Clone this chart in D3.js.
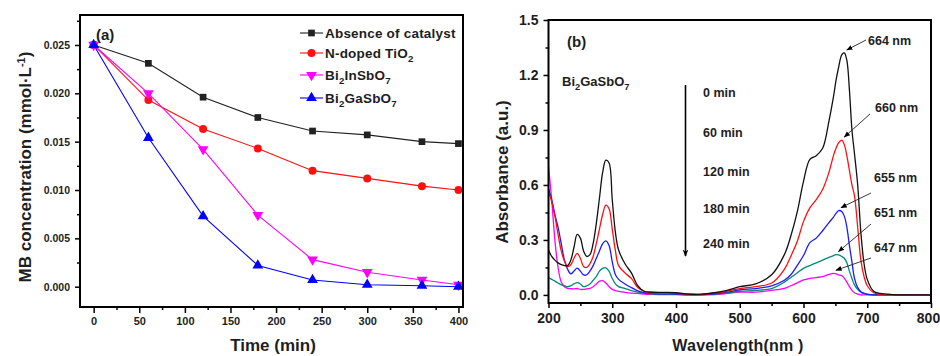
<!DOCTYPE html>
<html>
<head>
<meta charset="utf-8">
<script src="https://cdn.jsdelivr.net/npm/d3@7"></script>
<style>
  body { margin: 0; background: #fff; }
  text { font-family: "Liberation Sans", Arial, sans-serif; font-weight: bold; fill: #1e1e1e; }
</style>
</head>
<body>
<script>
// panel (a): MB concentration vs time
var times = [0, 60, 120, 180, 240, 300, 360, 400];
var absenceCatalyst = [0.0250, 0.0231, 0.0196, 0.0175, 0.0161, 0.0157, 0.0150, 0.0148];
var nDopedTiO2 = [0.0250, 0.0193, 0.0163, 0.0143, 0.0120, 0.0112, 0.0104, 0.0100];
var bi2InSbO7 = [0.0250, 0.0200, 0.0142, 0.0074, 0.0028, 0.0015, 0.0007, 0.0002];
var bi2GaSbO7 = [0.0250, 0.0154, 0.0073, 0.0022, 0.0007, 0.0002, 0.0001, 0.0000];
var legendNames = ["Absence of catalyst", "N-doped TiO_2", "Bi_2InSbO_7", "Bi_2GaSbO_7"];
var timeTicks = [0, 50, 100, 150, 200, 250, 300, 350, 400];
var concTicks = [0.000, 0.005, 0.010, 0.015, 0.020, 0.025];

// panel (b): absorption spectra of Bi2GaSbO7
var wavelengths = [200, 205, 210, 215, 220, 225, 230, 235, 240, 245, 250, 255, 260, 265, 270, 275, 280, 285, 290, 295,
  300, 305, 310, 320, 330, 340, 350, 360, 380, 400, 420, 440, 460, 480, 500, 525, 550, 570, 580, 590,
  600, 610, 620, 630, 640, 647, 651, 655, 660, 664, 668, 672, 676, 680, 685, 690, 695, 700, 710, 720,
  740, 770, 800];
var abs0 = [0.245, 0.21, 0.19, 0.175, 0.165, 0.16, 0.16, 0.19, 0.26, 0.33, 0.31, 0.24, 0.21, 0.22, 0.28, 0.39, 0.53, 0.67, 0.735, 0.72,
  0.52, 0.34, 0.245, 0.17, 0.12, 0.05, 0.02, 0.016, 0.014, 0.012, 0.005, 0.004, 0.012, 0.025, 0.045, 0.06, 0.11, 0.22, 0.32, 0.45,
  0.62, 0.74, 0.76, 0.80, 0.95, 1.08, 1.17, 1.24, 1.31, 1.32, 1.28, 1.12, 0.90, 0.77, 0.60, 0.34, 0.17, 0.085, 0.02, 0.008,
  0.002, 0, 0];
var abs60 = [0.56, 0.51, 0.43, 0.33, 0.24, 0.185, 0.155, 0.165, 0.20, 0.227, 0.20, 0.155, 0.15, 0.17, 0.21, 0.28, 0.36, 0.44, 0.49, 0.47,
  0.36, 0.24, 0.16, 0.12, 0.09, 0.04, 0.02, 0.012, 0.01, 0.008, 0.003, 0.003, 0.01, 0.02, 0.035, 0.045, 0.065, 0.14, 0.21, 0.29,
  0.40, 0.475, 0.52, 0.575, 0.67, 0.76, 0.80, 0.83, 0.845, 0.82, 0.76, 0.68, 0.60, 0.54, 0.37, 0.19, 0.10, 0.05, 0.012, 0.004,
  0, 0, 0];
var abs120 = [0.58, 0.52, 0.44, 0.37, 0.28, 0.19, 0.14, 0.115, 0.13, 0.146, 0.13, 0.109, 0.11, 0.13, 0.16, 0.20, 0.24, 0.28, 0.295, 0.27,
  0.18, 0.11, 0.085, 0.06, 0.04, 0.022, 0.012, 0.008, 0.006, 0.005, 0.002, 0.002, 0.006, 0.015, 0.028, 0.035, 0.05, 0.08, 0.11, 0.16,
  0.215, 0.285, 0.31, 0.35, 0.395, 0.425, 0.445, 0.46, 0.455, 0.43, 0.37, 0.27, 0.18, 0.09, 0.04, 0.018, 0.008, 0.003, 0, 0,
  0, 0, 0];
var abs180 = [0.095, 0.085, 0.075, 0.065, 0.055, 0.05, 0.045, 0.05, 0.06, 0.067, 0.06, 0.045, 0.05, 0.06, 0.08, 0.10, 0.13, 0.145, 0.148, 0.13,
  0.09, 0.06, 0.045, 0.035, 0.024, 0.015, 0.01, 0.006, 0.004, 0.003, 0.001, 0.001, 0.004, 0.01, 0.02, 0.025, 0.035, 0.07, 0.095, 0.12,
  0.145, 0.16, 0.175, 0.19, 0.205, 0.215, 0.22, 0.218, 0.21, 0.20, 0.175, 0.13, 0.09, 0.055, 0.03, 0.015, 0.008, 0.004, 0, 0,
  0, 0, 0];
var abs240 = [0.70, 0.52, 0.30, 0.15, 0.07, 0.045, 0.036, 0.034, 0.033, 0.035, 0.03, 0.03, 0.033, 0.036, 0.045, 0.06, 0.075, 0.078, 0.065, 0.045,
  0.03, 0.024, 0.02, 0.014, 0.01, 0.008, 0.005, 0.003, 0.002, 0.002, 0, 0, 0.002, 0.008, 0.015, 0.015, 0.025, 0.036, 0.05, 0.066,
  0.082, 0.09, 0.095, 0.10, 0.112, 0.118, 0.115, 0.11, 0.105, 0.092, 0.07, 0.045, 0.025, 0.012, 0.005, 0, 0, 0, 0, 0,
  0, 0, 0];
var timeLabels = ["0 min", "60 min", "120 min", "180 min", "240 min"];
var peakWavelengths = [664, 660, 655, 651, 647];
var peakLabels = ["664 nm", "660 nm", "655 nm", "651 nm", "647 nm"];
var waveTicks = [200, 300, 400, 500, 600, 700, 800];
var absTicks = [0.0, 0.3, 0.6, 0.9, 1.2, 1.5];

var svg = d3.select("body").append("svg")
        .attr("width", 940)
        .attr("height", 356);

// writes "Bi_2GaSbO_7" style text with subscripts
function chem(sel, str, size) {
  var parts = str.split("_");
  sel.append("tspan").text(parts[0]);
  for (var i = 1; i < parts.length; i++) {
    sel.append("tspan").attr("dy", 4).attr("font-size", size * 0.72).text(parts[i].charAt(0));
    sel.append("tspan").attr("dy", -4).text(parts[i].slice(1));
  }
}

function styleAxis(g, size) {
  g.select(".domain").remove();
  g.selectAll(".tick line").attr("stroke", "#000").attr("stroke-width", 1.5);
  g.selectAll(".tick text").attr("font-size", size).attr("fill", "#1e1e1e")
    .attr("font-family", "Liberation Sans, Arial, sans-serif").attr("font-weight", "bold");
}

// ---------- panel (a) ----------
var xA = d3.scaleLinear().domain([-15, 405]).range([80, 463]);
var yA = d3.scaleLinear().domain([-0.0021, 0.0281]).range([307, 15]);

svg.append("g").attr("transform", "translate(0,307)")
  .call(d3.axisBottom(xA).tickValues(timeTicks).tickSize(6).tickPadding(4))
  .call(styleAxis, 11);
svg.append("g").attr("transform", "translate(0,307)")
  .call(d3.axisBottom(xA).tickValues(d3.range(25, 400, 50)).tickSize(3).tickFormat(""))
  .call(styleAxis, 11);
svg.append("g").attr("transform", "translate(80,0)")
  .call(d3.axisLeft(yA).tickValues(concTicks).tickSize(5).tickPadding(5).tickFormat(d3.format(".3f")))
  .call(styleAxis, 10.5);
svg.append("g").attr("transform", "translate(80,0)")
  .call(d3.axisLeft(yA).tickValues([0.0025, 0.0075, 0.0125, 0.0175, 0.0225, 0.0275]).tickSize(3).tickFormat(""))
  .call(styleAxis, 10.5);

var seriesA = [
  {name: legendNames[0], values: absenceCatalyst, color: "#222", symbol: d3.symbolSquare, size: 45, rot: 0},
  {name: legendNames[1], values: nDopedTiO2, color: "#ff1010", symbol: d3.symbolCircle, size: 50, rot: 0},
  {name: legendNames[2], values: bi2InSbO7, color: "#ff00ff", symbol: d3.symbolTriangle, size: 50, rot: 180},
  {name: legendNames[3], values: bi2GaSbO7, color: "#0000ff", symbol: d3.symbolTriangle, size: 50, rot: 0}
];

var lineA = d3.line()
  .x(function(d, i){ return xA(times[i]); })
  .y(function(d){ return yA(d); });

seriesA.forEach(function(s) {
  svg.append("path")
    .attr("d", lineA(s.values))
    .attr("fill", "none")
    .attr("stroke", s.color)
    .attr("stroke-width", 1.1);
  svg.selectAll(null)
    .data(s.values)
    .enter().append("path")
      .attr("d", d3.symbol().type(s.symbol).size(s.size))
      .attr("fill", s.color)
      .attr("transform", function(d, i){ return "translate(" + xA(times[i]) + "," + yA(d) + ") rotate(" + s.rot + ")"; });
});

svg.append("rect").attr("x", 80).attr("y", 15).attr("width", 383).attr("height", 292)
  .attr("fill", "none").attr("stroke", "#000").attr("stroke-width", 2);

svg.append("text").attr("x", 96).attr("y", 40).attr("font-size", 15).text("(a)");

// legend
var legendY = [33, 53, 75, 98];
seriesA.forEach(function(s, i) {
  var g = svg.append("g").attr("transform", "translate(300," + legendY[i] + ")");
  g.append("line").attr("x1", 0).attr("x2", 23).attr("stroke", s.color).attr("stroke-width", 1.1);
  g.append("path").attr("d", d3.symbol().type(s.symbol).size(s.size))
    .attr("fill", s.color)
    .attr("transform", "translate(11.5,0) rotate(" + s.rot + ")");
  var t = g.append("text").attr("x", 25).attr("y", 5).attr("font-size", 13.5).attr("letter-spacing", 0.2);
  chem(t, s.name, 13.5);
});

svg.append("text").attr("x", 273).attr("y", 351).attr("text-anchor", "middle").attr("font-size", 17).text("Time (min)");
var yTitle = svg.append("text")
  .attr("transform", "translate(31,167) rotate(-90)")
  .attr("text-anchor", "middle").attr("font-size", 17);
yTitle.append("tspan").text("MB concentration  (mmol\u00b7L");
yTitle.append("tspan").attr("dy", -6).attr("font-size", 11).text("-1");
yTitle.append("tspan").attr("dy", 6).text(")");

// ---------- panel (b) ----------
var xB = d3.scaleLinear().domain([200, 800]).range([548.5, 931]);
var yB = d3.scaleLinear().domain([-0.044, 1.5]).range([303, 20]);

svg.append("g").attr("transform", "translate(0,303)")
  .call(d3.axisBottom(xB).tickValues(waveTicks).tickSize(5).tickPadding(5))
  .call(styleAxis, 14)
  .selectAll(".tick text").filter(function(d){ return d === 800; }).attr("dx", -3);
svg.append("g").attr("transform", "translate(0,303)")
  .call(d3.axisBottom(xB).tickValues(d3.range(250, 800, 100)).tickSize(3).tickFormat(""))
  .call(styleAxis, 14);
svg.append("g").attr("transform", "translate(548.5,0)")
  .call(d3.axisLeft(yB).tickValues(absTicks).tickSize(5).tickPadding(5).tickFormat(d3.format(".1f")))
  .call(styleAxis, 14);
svg.append("g").attr("transform", "translate(548.5,0)")
  .call(d3.axisLeft(yB).tickValues([0.15, 0.45, 0.75, 1.05, 1.35]).tickSize(3).tickFormat(""))
  .call(styleAxis, 14);

svg.append("clipPath").attr("id", "clipB")
  .append("rect").attr("x", 548.5).attr("y", 20).attr("width", 382.5).attr("height", 283);

var spectra = [
  {values: abs0, color: "#111"},
  {values: abs60, color: "#ff1010"},
  {values: abs120, color: "#1a1aff"},
  {values: abs180, color: "#008878"},
  {values: abs240, color: "#ff00ff"}
];

var lineB = d3.line()
  .x(function(d, i){ return xB(wavelengths[i]); })
  .y(function(d){ return yB(d); })
  .curve(d3.curveCatmullRom.alpha(0.5));

svg.append("g").attr("clip-path", "url(#clipB)")
  .selectAll("path")
  .data(spectra.slice().reverse())
  .enter().append("path")
    .attr("d", function(s){ return lineB(s.values); })
    .attr("fill", "none")
    .attr("stroke", function(s){ return s.color; })
    .attr("stroke-width", 1.3);

svg.append("rect").attr("x", 548.5).attr("y", 20).attr("width", 382.5).attr("height", 283)
  .attr("fill", "none").attr("stroke", "#000").attr("stroke-width", 2);

svg.append("text").attr("x", 567).attr("y", 47).attr("font-size", 15).text("(b)");
var formula = svg.append("text").attr("x", 562).attr("y", 86).attr("font-size", 13);
chem(formula, "Bi_2GaSbO_7", 13);

// time arrow and labels
var defs = svg.append("defs");
defs.append("marker").attr("id", "head")
  .attr("viewBox", "0 0 10 10").attr("refX", 9).attr("refY", 5)
  .attr("markerWidth", 7).attr("markerHeight", 7).attr("orient", "auto")
  .append("path").attr("d", "M0,1 L10,5 L0,9 Z").attr("fill", "#000");
defs.append("marker").attr("id", "bighead")
  .attr("viewBox", "0 0 10 10").attr("refX", 9).attr("refY", 5)
  .attr("markerWidth", 4.5).attr("markerHeight", 4.5).attr("orient", "auto")
  .append("path").attr("d", "M0,1 L10,5 L0,9 L3,5 Z").attr("fill", "#000");

svg.append("line").attr("x1", 685.5).attr("x2", 685.5).attr("y1", 85).attr("y2", 256)
  .attr("stroke", "#000").attr("stroke-width", 1.6).attr("marker-end", "url(#bighead)");

var timeLabelY = [97, 137, 176, 213, 248];
svg.selectAll(".tlab")
  .data(timeLabels)
  .enter().append("text")
    .attr("x", 703)
    .attr("y", function(d, i){ return timeLabelY[i]; })
    .attr("font-size", 12.5)
    .text(function(d){ return d; });

// peak labels with arrows to the peak maxima
var peakLabelPos = [[868, 45], [875, 112], [874, 182], [874, 217], [874, 252]];
var arrowTail = [[866, 40], [870, 114], [871, 193], [871, 224], [871, 258]];
peakWavelengths.forEach(function(w, i) {
  var idx = wavelengths.indexOf(w);
  var tipX = xB(w) + 2.5, tipY = yB(spectra[i].values[idx]) - 3;
  svg.append("line")
    .attr("x1", arrowTail[i][0]).attr("y1", arrowTail[i][1])
    .attr("x2", tipX).attr("y2", tipY)
    .attr("stroke", "#222").attr("stroke-width", 0.9)
    .attr("marker-end", "url(#head)");
  svg.append("text").attr("x", peakLabelPos[i][0]).attr("y", peakLabelPos[i][1])
    .attr("font-size", 12.5).text(peakLabels[i]);
});

svg.append("text").attr("x", 738).attr("y", 351).attr("text-anchor", "middle")
  .attr("font-size", 16).attr("letter-spacing", 0.2).text("Wavelength(nm )");
svg.append("text").attr("transform", "translate(508,172) rotate(-90)")
  .attr("text-anchor", "middle").attr("font-size", 17).text("Absorbance (a.u.)");
</script>
</body>
</html>
